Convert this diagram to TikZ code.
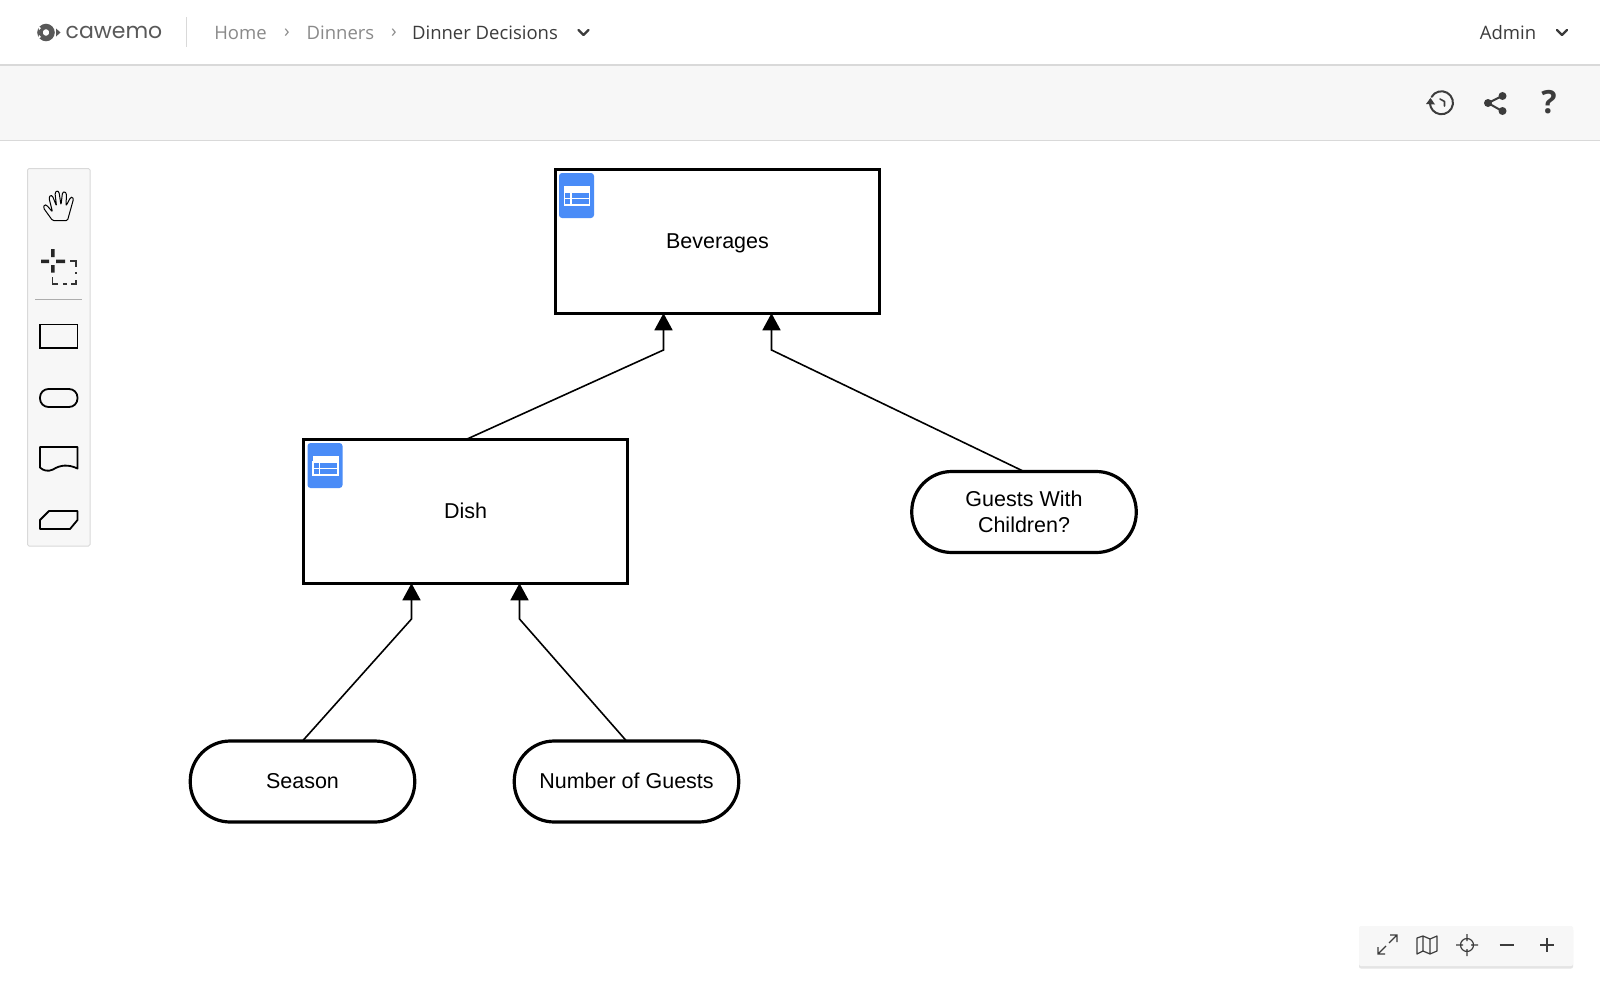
\documentclass[tikz,border=0pt]{standalone}
\usepackage{fontspec}
\setmainfont{Liberation Sans}
\newfontfamily\uifont{Open Sans}
\newfontfamily\logofont{Poppins}
\usetikzlibrary{arrows.meta}
\definecolor{uibg}{HTML}{F7F7F7}
\definecolor{uiline}{HTML}{D9D9D9}
\definecolor{uidark}{HTML}{3C3C3C}
\definecolor{uigray}{HTML}{8A8A8A}
\definecolor{iconblue}{HTML}{4A8CF7}
\tikzset{
  x=1pt,y=-1pt,
  dmnbox/.style={draw=black,line width=3.2pt,fill=white,inner sep=0pt,outer sep=0pt,minimum width=324pt,minimum height=143.5pt,font=\fontsize{21.5}{26}\selectfont,align=center,text height=15.4pt,text depth=2pt},
  pill/.style={draw=black,line width=3.2pt,fill=white,rounded corners=40pt,inner sep=0pt,outer sep=0pt,minimum width=224.5pt,minimum height=81pt,font=\fontsize{21.5}{26}\selectfont,align=center},
  oneline/.style={text height=15.4pt,text depth=2pt},
  conn/.style={draw=black,line width=1.6pt,-{Triangle[length=17pt,width=18pt]}},
  crumb/.style={font=\uifont\fontsize{18.5}{22}\selectfont,text=uigray,inner sep=0pt},
  tool/.style={draw=black,line width=1.8pt},
  uistroke/.style={draw=uidark,line width=2pt,line cap=round,line join=round},
  pics/tableicon/.style={code={
    \fill[iconblue,rounded corners=3pt] (0,0) rectangle (35,45);
    \fill[white] (5,13) rectangle (31,19);
    \draw[white,line width=1.2pt] (5.5,19) rectangle (30.5,32) (5.5,25.5) -- (30.5,25.5) (12,19) -- (12,32);
  }}
}
\begin{document}
\begin{tikzpicture}
\useasboundingbox (0,0) rectangle (1600,993);
\fill[white] (0,0) rectangle (1600,993);
% top bars
\fill[uibg] (0,65) rectangle (1600,140);
\draw[uiline,line width=1.2pt] (0,65) -- (1600,65) (0,140.5) -- (1600,140.5);
\draw[uiline,line width=1pt] (186,17) -- (186,47);
% logo
\draw[uidark!85,line width=5.4pt] (46,32.5) circle (6);
\fill[white] (38,26) -- (41,28) -- (39,30) -- cycle (38,39) -- (41,37) -- (39,35) -- cycle;
\fill[uidark!85] (56,28.5) -- (60.5,32.5) -- (56,36.5) -- cycle;
\node[inner sep=0pt,text=uidark!85,font=\logofont\fontsize{22}{26}\selectfont] (logo) at (114,32.5) {cawemo};
% breadcrumbs
\node[crumb] (home) at (240.5,33) {Home};
\node[crumb] (sep1) at (287,33) {›};
\node[crumb] (dinners) at (340.5,33) {Dinners};
\node[crumb] (sep2) at (394,33) {›};
\node[crumb,text=uidark] (current) at (485,33) {Dinner Decisions};
\draw[uistroke,line width=2.4pt] (578.5,30) -- (583.5,35) -- (588.5,30);
\node[crumb,text=uidark] (admin) at (1508,33) {Admin};
\draw[uistroke,line width=2.4pt] (1557,30) -- (1562,35) -- (1567,30);
% history icon
\draw[uistroke,line width=2pt] (1431.5,97) arc (-150:195:11.5 and 11.5);
\fill[uidark] (1426,104) -- (1435,104.5) -- (1430.5,98) -- cycle;
\draw[uistroke,line width=1.6pt] (1440,99) -- (1444.5,101.5) -- (1444.5,106);
% share icon
\draw[uistroke,line width=2pt] (1502,96) -- (1488,103) -- (1502,111);
\fill[uidark] (1502.5,96) circle (4) (1488,103) circle (4) (1502.5,111) circle (4);
\node[inner sep=0pt,text=uidark,font=\uifont\bfseries\fontsize{32}{36}\selectfont] (help) at (1549,102.5) {?};
% left toolbar
\draw[uiline,fill=uibg,line width=1pt,rounded corners=1.5pt] (27.5,168.5) rectangle (90,546);
\draw[black,line width=1pt,line join=round,rounded corners=1.2pt]
  (52.5,220.5) -- (43.5,208) -- (44.5,204.5) -- (47,205.5) -- (52.5,212)
  -- (49,198) -- (50.5,195) -- (52.5,196) -- (56.5,206)
  -- (55,193) -- (57,190.5) -- (59,192) -- (61,205)
  -- (62.5,192.5) -- (64.5,191.5) -- (66.5,193.5) -- (66,206)
  -- (70.5,197.5) -- (72.5,197) -- (73.5,199) -- (67.5,220.5) -- cycle;
\fill[black!85] (51,249) rectangle (54.5,257) (51,265) rectangle (54.5,272.5) (41,259.5) rectangle (49,263) (56,259.5) rectangle (65,263);
\draw[black!80,line width=1.2pt] (70,261) -- (76,261) -- (76,267) (76,272) -- (76,274) (76,280) -- (76,284) -- (71,284) (67,284) -- (63,284) (58,284) -- (52.5,284) -- (52.5,277);
\draw[uigray!70,line width=1pt] (35,299) -- (82,299);
\draw[tool] (40,324.5) rectangle (77.5,348);
\draw[tool,rounded corners=8.5pt] (40,389) rectangle (77.5,407);
\draw[tool,line join=round] (40,447) -- (77.5,447) -- (77.5,468.5) .. controls (68,464) and (60,465) .. (53,469.5) .. controls (48,472) and (43,470.5) .. (40,467.5) -- cycle;
\draw[tool,line join=round] (40,520) -- (49,511) -- (77.5,511) -- (77.5,520) -- (70,529) -- (40,529) -- cycle;
% bottom right toolbar
\fill[uiline!70,rounded corners=2pt] (1359,928) rectangle (1573,968.5);
\fill[uibg,rounded corners=2pt] (1359,926) rectangle (1573,966);
\draw[uidark,line width=1.3pt] (1386,946) -- (1378,954) (1378,947) -- (1378,954) -- (1385,954) (1389,943) -- (1397,935) (1390,935) -- (1397,935) -- (1397,942);
\draw[uidark,line width=1.2pt,line join=round] (1417,938) -- (1423,936) -- (1430,939) -- (1437,936) -- (1437,951) -- (1430,954) -- (1423,951) -- (1417,954) -- cycle (1423,936) -- (1423,951) (1430,939) -- (1430,954);
\draw[uidark,line width=1.2pt] (1467,945) circle (6.5) (1467,934) -- (1467,941) (1467,949) -- (1467,956) (1456,945) -- (1463,945) (1471,945) -- (1478,945);
\draw[uidark,line width=2.4pt] (1499.5,945) -- (1514,945) (1540,945) -- (1554,945) (1547,938) -- (1547,952);
% diagram nodes
\node[dmnbox] (bev) at (717.5,241.5) {Beverages};
\node[dmnbox] (dish) at (465.5,511.5) {};
\node[inner sep=0pt,font=\fontsize{21.5}{26}\selectfont,oneline] (dishlabel) at (465.5,512) {Dish};
\node[pill] (guests) at (1024,512) {Guests With\\Children?};
\node[pill,oneline] (season) at (302.5,781.5) {Season};
\node[pill,oneline] (number) at (626.5,781.5) {Number of Guests};
\pic at (559,173) {tableicon};
\pic at (307.5,443) {tableicon};
% connectors
\draw[conn] (dish.north) -- (663.5,350) -- ([xshift=-54pt]bev.south);
\draw[conn] (guests.north) -- (771.5,350) -- ([xshift=54pt]bev.south);
\draw[conn] (season.north) -- (411.5,619) -- ([xshift=-54pt]dish.south);
\draw[conn] (number.north) -- (519.5,619) -- ([xshift=54pt]dish.south);
\end{tikzpicture}
\end{document}
